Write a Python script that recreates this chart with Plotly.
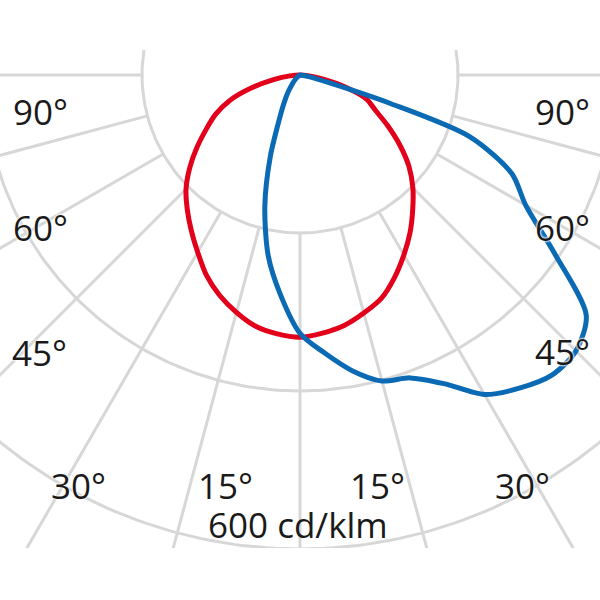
import numpy as np
import plotly.graph_objects as go

# ---------------- data (cd/klm) ----------------
gamma = [0, 5, 10, 15, 20, 25, 30, 35, 40, 45, 50, 55, 60, 65, 70, 75, 80, 85, 90]
# C0-C180 plane (red)
red_c180 = [332, 329, 323, 311, 297, 280, 259, 240, 222, 204, 182, 159, 137, 118, 95, 64, 34, 13, 0]
red_c0 = [332, 328, 322, 312, 301, 283, 263, 243, 222, 202, 180, 154, 128, 105, 90, 60, 30, 10, 0]
# C90-C270 plane (blue)
gamma_blue_r = [0, 5, 10, 15, 20, 25, 30, 35, 40, 45, 50, 55, 60, 65, 70, 72.5, 75, 80, 85, 90]
blue_c90 = [327, 353, 380, 401, 408, 431, 467, 484, 496, 494, 473, 393, 330, 296, 229, 120, 39, 10, 3, 0]
blue_c270 = [327, 280, 232, 172, 110, 62, 40, 26, 16, 10, 6, 3, 2, 0, 0, 0, 0, 0, 0]

grid_radii = [200, 400, 600]
grid_angles = [-90, -75, -60, -45, -30, -15, 0, 15, 30, 45, 60, 75, 90]
angle_labels = ["90°", "60°", "45°", "30°", "15°", "15°", "30°", "45°", "60°", "90°"]
scale_label = "600 cd/klm"

# ---------------- helpers ----------------
def to_xy(theta_deg, r):
    t = np.radians(np.asarray(theta_deg, dtype=float))
    r = np.asarray(r, dtype=float)
    return r * np.sin(t), -r * np.cos(t)

GRID = "#d7d7d7"
fig = go.Figure()

# circles
cx, cy = [], []
for r in grid_radii:
    th = np.arange(0, 361, 1)
    x, y = to_xy(th, [r] * len(th))
    cx += list(x) + [None]
    cy += list(y) + [None]
fig.add_trace(go.Scatter(x=cx, y=cy, mode="lines", line=dict(color=GRID, width=3),
                         hoverinfo="skip"))

# radial lines
rx, ry = [], []
for a in grid_angles:
    x, y = to_xy([a, a], [grid_radii[0], 1200])
    rx += list(x) + [None]
    ry += list(y) + [None]
fig.add_trace(go.Scatter(x=rx, y=ry, mode="lines", line=dict(color=GRID, width=3),
                         hoverinfo="skip"))

# red curve: C180 side (left, negative angle) then C0 side (right)
red_th = [-g for g in gamma[::-1]] + gamma[1:]
red_r = red_c180[::-1] + red_c0[1:]
x, y = to_xy(red_th, red_r)
fig.add_trace(go.Scatter(x=x, y=y, mode="lines", line=dict(color="#e2001a", width=5, shape="spline", smoothing=0.8),
                         name="C0-C180"))

# blue curve: C270 side (left) then C90 side (right)
blue_th = [-g for g in gamma[::-1]] + gamma_blue_r[1:]
blue_r = blue_c270[::-1] + blue_c90[1:]
x, y = to_xy(blue_th, blue_r)
fig.add_trace(go.Scatter(x=x, y=y, mode="lines", line=dict(color="#0a6ab4", width=5, shape="spline", smoothing=0.8),
                         name="C90-C270"))

# ---------------- layout ----------------
K = 0.79          # px per cd/klm
CX, CY = 300, 75  # pole position in px
TOP, BOT = 50, 548
xr = [-CX / K, (600 - CX) / K]
yr = [(CY - BOT) / K, (CY - TOP) / K]

def paper(px, py):
    return px / 600.0, (BOT - py) / (BOT - TOP)

label_pos = [(40, 111), (40, 227), (39, 352), (79, 485), (225, 485),
             (377, 485), (522, 485), (562, 351), (562, 227), (562, 111)]
halo = "white 0px 0px 2px, white 0px 0px 2px, white 0px 0px 3px"
annots = []
for txt, (px, py) in zip(angle_labels, label_pos):
    xp, yp = paper(px, py)
    annots.append(dict(x=xp, y=yp, xref="paper", yref="paper", text=txt, showarrow=False,
                       xanchor="center", yanchor="middle", height=32,
                       font=dict(family="Open Sans", size=35, color="#1a1a1a", shadow=halo)))
xp, yp = paper(298, 524)
annots.append(dict(x=xp, y=yp, xref="paper", yref="paper", text=scale_label, showarrow=False,
                   xanchor="center", yanchor="middle", height=32,
                   font=dict(family="Open Sans", size=35, color="#1a1a1a")))

fig.update_layout(
    width=600, height=600,
    margin=dict(l=0, r=0, t=TOP, b=600 - BOT, pad=0),
    paper_bgcolor="white", plot_bgcolor="white",
    showlegend=False,
    xaxis=dict(range=xr, visible=False, fixedrange=True),
    yaxis=dict(range=yr, visible=False, fixedrange=True),
    annotations=annots,
)
fig.write_html("out.html", config={"displayModeBar": False},
               post_script="document.body.style.margin='0px';document.body.style.overflow='hidden';")
